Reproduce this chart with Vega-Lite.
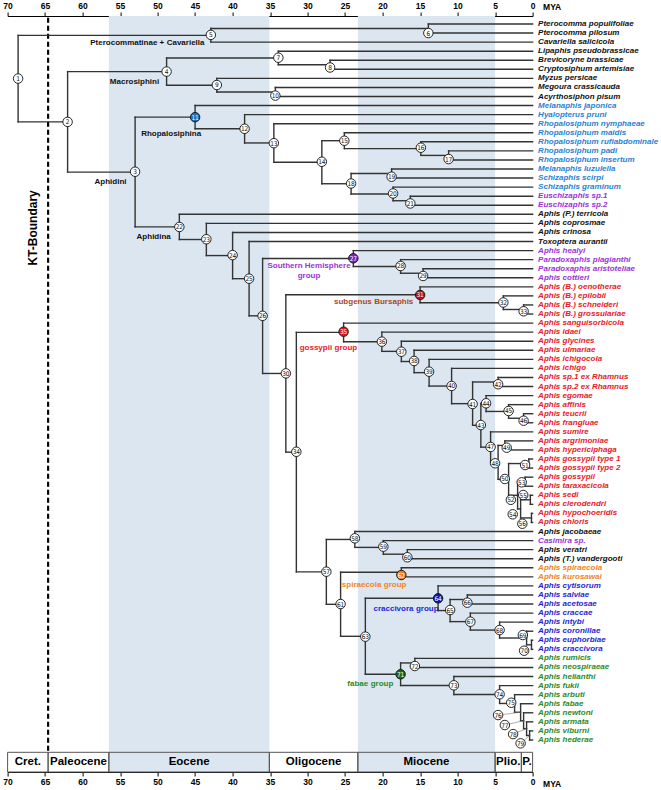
{
"$schema":"https://vega.github.io/schema/vega-lite/v6.json",
"width":525,"height":756,"autosize":"none",
"padding":{"left":7.6,"top":16,"right":128.4,"bottom":18},
"background":"white",
"config":{"view":{"stroke":null}},
"datasets":{
"bands":[{"s":56.5,"e":35.1},{"s":23.3,"e":5.0}],
"epochs":[{"n":"Cret.","s":70,"e":64.6,"m":67.3},{"n":"Paleocene","s":64.6,"e":56.5,"m":60.55},{"n":"Eocene","s":56.5,"e":35.1,"m":45.8},{"n":"Oligocene","s":35.1,"e":23.3,"m":29.2},{"n":"Miocene","s":23.3,"e":5.0,"m":14.15},{"n":"Plio.","s":5.0,"e":1.5,"m":3.25},{"n":"P.","s":1.5,"e":0,"m":0.75}],
"kt":[{"a":64.6}],
"ann":[
{"t":"Pterocommatinae +","a":48.95,"r":3.06,"p":"r","it":false,"g":"k"},
{"t":"Cavariella","a":48.95,"r":3.06,"p":"l","it":true,"g":"k"},
{"t":"Macrosiphini","a":53.08,"r":7.37,"p":"c","it":false,"g":"k"},
{"t":"Rhopalosiphina","a":48.19,"r":13.14,"p":"c","it":false,"g":"k"},
{"t":"Aphidini","a":56.28,"r":18.47,"p":"c","it":false,"g":"k"},
{"t":"Aphidina","a":50.52,"r":24.47,"p":"c","it":false,"g":"k"},
{"t":"Southern Hemisphere","a":29.81,"r":27.7,"p":"c","it":false,"g":"pu"},
{"t":"group","a":29.81,"r":28.8,"p":"c","it":false,"g":"pu"},
{"t":"subgenus","a":21.28,"r":31.71,"p":"r","it":false,"g":"bu"},
{"t":"Bursaphis","a":21.28,"r":31.71,"p":"l","it":true,"g":"bu"},
{"t":"gossypii","a":26.57,"r":36.78,"p":"r","it":true,"g":"rd"},
{"t":"group","a":26.57,"r":36.78,"p":"l","it":false,"g":"rd"},
{"t":"spiraecola","a":20.0,"r":62.93,"p":"r","it":true,"g":"or"},
{"t":"group","a":20.0,"r":62.93,"p":"l","it":false,"g":"or"},
{"t":"craccivora","a":15.72,"r":65.58,"p":"r","it":true,"g":"db"},
{"t":"group","a":15.72,"r":65.58,"p":"l","it":false,"g":"db"},
{"t":"fabae","a":21.75,"r":73.82,"p":"r","it":true,"g":"gr"},
{"t":"group","a":21.75,"r":73.82,"p":"l","it":false,"g":"gr"}
],
"tree":[
{"kind":"n","id":1,"parent":null,"age":68.6,"y":7.02,"ca":68.6,"cr":7.02,"cl":"none"},
{"kind":"n","id":2,"parent":1,"age":62.0,"y":11.8,"ca":62.0,"cr":11.8,"cl":"none"},
{"kind":"n","id":3,"parent":2,"age":53.0,"y":17.34,"ca":53.0,"cr":17.3,"cl":"none"},
{"kind":"n","id":4,"parent":2,"age":48.8,"y":6.25,"ca":48.8,"cr":6.25,"cl":"none"},
{"kind":"n","id":5,"parent":1,"age":42.9,"y":2.25,"ca":42.9,"cr":2.2,"cl":"none"},
{"kind":"n","id":6,"parent":5,"age":13.9,"y":1.5,"ca":13.9,"cr":2.0,"cl":"none"},
{"kind":"n","id":7,"parent":4,"age":33.9,"y":4.75,"ca":33.9,"cr":4.72,"cl":"none"},
{"kind":"n","id":8,"parent":7,"age":27.0,"y":5.5,"ca":27.0,"cr":5.8,"cl":"none"},
{"kind":"n","id":9,"parent":4,"age":42.1,"y":7.75,"ca":42.1,"cr":7.73,"cl":"none"},
{"kind":"n","id":10,"parent":9,"age":34.3,"y":8.5,"ca":34.3,"cr":8.9,"cl":"none"},
{"kind":"n","id":11,"parent":3,"age":45.0,"y":11.28,"ca":45.0,"cr":11.28,"cl":"rh"},
{"kind":"n","id":12,"parent":11,"age":38.4,"y":12.56,"ca":38.4,"cr":12.56,"cl":"none"},
{"kind":"n","id":13,"parent":12,"age":34.5,"y":14.125,"ca":34.5,"cr":14.15,"cl":"none"},
{"kind":"n","id":14,"parent":13,"age":28.1,"y":16.25,"ca":28.1,"cr":16.2,"cl":"none"},
{"kind":"n","id":15,"parent":14,"age":25.1,"y":13.875,"ca":25.1,"cr":13.88,"cl":"none"},
{"kind":"n","id":16,"parent":15,"age":14.9,"y":14.75,"ca":14.9,"cr":14.65,"cl":"none"},
{"kind":"n","id":17,"parent":16,"age":11.2,"y":15.5,"ca":11.2,"cr":15.9,"cl":"none"},
{"kind":"n","id":18,"parent":14,"age":24.2,"y":18.625,"ca":24.2,"cr":18.6,"cl":"none"},
{"kind":"n","id":19,"parent":18,"age":18.8,"y":17.5,"ca":18.8,"cr":17.85,"cl":"none"},
{"kind":"n","id":20,"parent":18,"age":18.6,"y":19.75,"ca":18.6,"cr":19.7,"cl":"none"},
{"kind":"n","id":21,"parent":20,"age":16.3,"y":20.5,"ca":16.3,"cr":20.8,"cl":"none"},
{"kind":"n","id":22,"parent":3,"age":47.1,"y":23.39,"ca":47.1,"cr":23.39,"cl":"none"},
{"kind":"n","id":23,"parent":22,"age":43.5,"y":24.78,"ca":43.5,"cr":24.75,"cl":"none"},
{"kind":"n","id":24,"parent":23,"age":40.0,"y":26.55,"ca":40.0,"cr":26.5,"cl":"none"},
{"kind":"n","id":25,"parent":24,"age":37.8,"y":29.1,"ca":37.8,"cr":29.1,"cl":"none"},
{"kind":"n","id":26,"parent":25,"age":36.0,"y":33.2,"ca":36.0,"cr":33.2,"cl":"none"},
{"kind":"n","id":27,"parent":26,"age":23.9,"y":26.875,"ca":23.9,"cr":26.85,"cl":"sh"},
{"kind":"n","id":28,"parent":27,"age":17.6,"y":27.75,"ca":17.6,"cr":27.7,"cl":"none"},
{"kind":"n","id":29,"parent":28,"age":14.6,"y":28.5,"ca":14.6,"cr":28.8,"cl":"none"},
{"kind":"n","id":30,"parent":26,"age":32.9,"y":39.56,"ca":32.9,"cr":39.55,"cl":"none"},
{"kind":"n","id":31,"parent":30,"age":15.0,"y":30.875,"ca":15.0,"cr":30.9,"cl":"bu"},
{"kind":"n","id":32,"parent":31,"age":3.9,"y":31.75,"ca":3.9,"cr":31.73,"cl":"none"},
{"kind":"n","id":33,"parent":32,"age":1.2,"y":32.5,"ca":1.2,"cr":32.7,"cl":"none"},
{"kind":"n","id":34,"parent":30,"age":31.5,"y":48.24,"ca":31.5,"cr":48.2,"cl":"none"},
{"kind":"n","id":35,"parent":34,"age":25.2,"y":35.03,"ca":25.2,"cr":34.95,"cl":"go"},
{"kind":"n","id":36,"parent":35,"age":20.1,"y":36.06,"ca":20.1,"cr":36.05,"cl":"none"},
{"kind":"n","id":37,"parent":36,"age":17.5,"y":37.12,"ca":17.5,"cr":37.16,"cl":"none"},
{"kind":"n","id":38,"parent":37,"age":15.8,"y":38.24,"ca":15.8,"cr":38.18,"cl":"none"},
{"kind":"n","id":39,"parent":38,"age":13.8,"y":39.47,"ca":13.8,"cr":39.36,"cl":"none"},
{"kind":"n","id":40,"parent":39,"age":10.8,"y":40.95,"ca":10.8,"cr":40.94,"cl":"none"},
{"kind":"n","id":41,"parent":40,"age":8.0,"y":42.89,"ca":8.0,"cr":42.93,"cl":"none"},
{"kind":"n","id":42,"parent":41,"age":4.6,"y":40.5,"ca":4.6,"cr":40.75,"cl":"none"},
{"kind":"n","id":43,"parent":41,"age":6.9,"y":45.28,"ca":6.9,"cr":45.25,"cl":"none"},
{"kind":"n","id":44,"parent":43,"age":6.2,"y":42.875,"ca":6.2,"cr":42.85,"cl":"none"},
{"kind":"n","id":45,"parent":44,"age":3.2,"y":43.75,"ca":3.2,"cr":43.7,"cl":"none"},
{"kind":"n","id":46,"parent":45,"age":1.2,"y":44.5,"ca":1.2,"cr":44.77,"cl":"none"},
{"kind":"n","id":47,"parent":43,"age":5.6,"y":47.69,"ca":5.6,"cr":47.67,"cl":"none"},
{"kind":"n","id":48,"parent":47,"age":4.6,"y":49.375,"ca":5.0,"cr":49.47,"cl":"none"},
{"kind":"n","id":49,"parent":48,"age":3.7,"y":47.5,"ca":3.45,"cr":47.75,"cl":"none"},
{"kind":"n","id":50,"parent":48,"age":3.2,"y":51.25,"ca":3.7,"cr":51.2,"cl":"none"},
{"kind":"n","id":51,"parent":50,"age":0.5,"y":49.5,"ca":1.0,"cr":49.66,"cl":"none"},
{"kind":"n","id":52,"parent":50,"age":2.0,"y":53.0,"ca":2.9,"cr":53.5,"cl":"none"},
{"kind":"n","id":53,"parent":52,"age":1.0,"y":51.5,"ca":1.45,"cr":51.57,"cl":"none"},
{"kind":"n","id":54,"parent":52,"age":1.6,"y":54.5,"ca":2.65,"cr":55.1,"cl":"none"},
{"kind":"n","id":55,"parent":54,"age":0.3,"y":53.5,"ca":1.25,"cr":52.97,"cl":"none"},
{"kind":"n","id":56,"parent":54,"age":0.15,"y":55.5,"ca":1.37,"cr":56.14,"cl":"none"},
{"kind":"n","id":57,"parent":34,"age":27.5,"y":61.45,"ca":27.5,"cr":61.43,"cl":"none"},
{"kind":"n","id":58,"parent":57,"age":23.7,"y":57.875,"ca":23.7,"cr":57.75,"cl":"none"},
{"kind":"n","id":59,"parent":58,"age":19.9,"y":58.75,"ca":19.9,"cr":58.67,"cl":"none"},
{"kind":"n","id":60,"parent":59,"age":16.7,"y":59.5,"ca":16.7,"cr":59.84,"cl":"none"},
{"kind":"n","id":61,"parent":57,"age":25.6,"y":65.03,"ca":25.6,"cr":65.0,"cl":"none"},
{"kind":"n","id":62,"parent":61,"age":17.5,"y":61.5,"ca":17.5,"cr":61.8,"cl":"sp"},
{"kind":"n","id":63,"parent":61,"age":22.3,"y":68.56,"ca":22.3,"cr":68.6,"cl":"none"},
{"kind":"n","id":64,"parent":63,"age":12.6,"y":64.36,"ca":12.6,"cr":64.37,"cl":"cr"},
{"kind":"n","id":65,"parent":64,"age":11.0,"y":65.72,"ca":11.0,"cr":65.66,"cl":"none"},
{"kind":"n","id":66,"parent":65,"age":8.7,"y":64.5,"ca":8.7,"cr":64.85,"cl":"none"},
{"kind":"n","id":67,"parent":65,"age":8.3,"y":66.94,"ca":8.3,"cr":66.95,"cl":"none"},
{"kind":"n","id":68,"parent":67,"age":4.4,"y":67.875,"ca":4.4,"cr":67.87,"cl":"none"},
{"kind":"n","id":69,"parent":68,"age":0.8,"y":68.75,"ca":1.3,"cr":68.42,"cl":"none"},
{"kind":"n","id":70,"parent":69,"age":0.15,"y":69.5,"ca":1.13,"cr":70.15,"cl":"none"},
{"kind":"n","id":71,"parent":63,"age":17.6,"y":72.75,"ca":17.6,"cr":72.75,"cl":"fa"},
{"kind":"n","id":72,"parent":71,"age":15.7,"y":71.5,"ca":15.7,"cr":71.84,"cl":"none"},
{"kind":"n","id":73,"parent":71,"age":10.5,"y":73.99,"ca":10.5,"cr":73.97,"cl":"none"},
{"kind":"n","id":74,"parent":73,"age":4.4,"y":74.98,"ca":4.4,"cr":74.96,"cl":"none"},
{"kind":"n","id":75,"parent":74,"age":2.4,"y":75.97,"ca":2.85,"cr":75.89,"cl":"none"},
{"kind":"n","id":76,"parent":75,"age":1.6,"y":76.94,"ca":4.6,"cr":77.25,"cl":"none"},
{"kind":"n","id":77,"parent":76,"age":1.2,"y":77.875,"ca":3.7,"cr":78.35,"cl":"none"},
{"kind":"n","id":78,"parent":77,"age":0.8,"y":78.75,"ca":2.6,"cr":79.35,"cl":"none"},
{"kind":"n","id":79,"parent":78,"age":0.4,"y":79.5,"ca":1.6,"cr":80.37,"cl":"none"},
{"kind":"t","id":"t1","parent":6,"age":0,"y":1,"name":"Pterocomma populifoliae","g":"k"},
{"kind":"t","id":"t2","parent":6,"age":0,"y":2,"name":"Pterocomma pilosum","g":"k"},
{"kind":"t","id":"t3","parent":5,"age":0,"y":3,"name":"Cavariella salicicola","g":"k"},
{"kind":"t","id":"t4","parent":7,"age":0,"y":4,"name":"Lipaphis pseudobrassicae","g":"k"},
{"kind":"t","id":"t5","parent":8,"age":0,"y":5,"name":"Brevicoryne brassicae","g":"k"},
{"kind":"t","id":"t6","parent":8,"age":0,"y":6,"name":"Cryptosiphum artemisiae","g":"k"},
{"kind":"t","id":"t7","parent":9,"age":0,"y":7,"name":"Myzus persicae","g":"k"},
{"kind":"t","id":"t8","parent":10,"age":0,"y":8,"name":"Megoura crassicauda","g":"k"},
{"kind":"t","id":"t9","parent":10,"age":0,"y":9,"name":"Acyrthosiphon pisum","g":"k"},
{"kind":"t","id":"t10","parent":11,"age":0,"y":10,"name":"Melanaphis japonica","g":"lb"},
{"kind":"t","id":"t11","parent":12,"age":0,"y":11,"name":"Hyalopterus pruni","g":"lb"},
{"kind":"t","id":"t12","parent":13,"age":0,"y":12,"name":"Rhopalosiphum nymphaeae","g":"lb"},
{"kind":"t","id":"t13","parent":15,"age":0,"y":13,"name":"Rhopalosiphum maidis","g":"lb"},
{"kind":"t","id":"t14","parent":16,"age":0,"y":14,"name":"Rhopalosiphum rufiabdominale","g":"lb"},
{"kind":"t","id":"t15","parent":17,"age":0,"y":15,"name":"Rhopalosiphum padi","g":"lb"},
{"kind":"t","id":"t16","parent":17,"age":0,"y":16,"name":"Rhopalosiphum insertum","g":"lb"},
{"kind":"t","id":"t17","parent":19,"age":0,"y":17,"name":"Melanaphis luzulella","g":"lb"},
{"kind":"t","id":"t18","parent":19,"age":0,"y":18,"name":"Schizaphis scirpi","g":"lb"},
{"kind":"t","id":"t19","parent":20,"age":0,"y":19,"name":"Schizaphis graminum","g":"lb"},
{"kind":"t","id":"t20","parent":21,"age":0,"y":20,"name":"Euschizaphis sp.1","g":"pu"},
{"kind":"t","id":"t21","parent":21,"age":0,"y":21,"name":"Euschizaphis sp.2","g":"pu"},
{"kind":"t","id":"t22","parent":22,"age":0,"y":22,"name":"Aphis (P.) terricola","g":"k"},
{"kind":"t","id":"t23","parent":23,"age":0,"y":23,"name":"Aphis coprosmae","g":"k"},
{"kind":"t","id":"t24","parent":24,"age":0,"y":24,"name":"Aphis crinosa","g":"k"},
{"kind":"t","id":"t25","parent":25,"age":0,"y":25,"name":"Toxoptera aurantii","g":"k"},
{"kind":"t","id":"t26","parent":27,"age":0,"y":26,"name":"Aphis healyi","g":"pu"},
{"kind":"t","id":"t27","parent":28,"age":0,"y":27,"name":"Paradoxaphis plagianthi","g":"pu"},
{"kind":"t","id":"t28","parent":29,"age":0,"y":28,"name":"Paradoxaphis aristoteliae","g":"pu"},
{"kind":"t","id":"t29","parent":29,"age":0,"y":29,"name":"Aphis cottieri","g":"pu"},
{"kind":"t","id":"t30","parent":31,"age":0,"y":30,"name":"Aphis (B.) oenotherae","g":"rd"},
{"kind":"t","id":"t31","parent":32,"age":0,"y":31,"name":"Aphis (B.) epilobii","g":"rd"},
{"kind":"t","id":"t32","parent":33,"age":0,"y":32,"name":"Aphis (B.) schneideri","g":"rd"},
{"kind":"t","id":"t33","parent":33,"age":0,"y":33,"name":"Aphis (B.) grossulariae","g":"rd"},
{"kind":"t","id":"t34","parent":35,"age":0,"y":34,"name":"Aphis sanguisorbicola","g":"rd"},
{"kind":"t","id":"t35","parent":36,"age":0,"y":35,"name":"Aphis idaei","g":"rd"},
{"kind":"t","id":"t36","parent":37,"age":0,"y":36,"name":"Aphis glycines","g":"rd"},
{"kind":"t","id":"t37","parent":38,"age":0,"y":37,"name":"Aphis ulmariae","g":"rd"},
{"kind":"t","id":"t38","parent":39,"age":0,"y":38,"name":"Aphis ichigocola","g":"rd"},
{"kind":"t","id":"t39","parent":40,"age":0,"y":39,"name":"Aphis ichigo","g":"rd"},
{"kind":"t","id":"t40","parent":42,"age":0,"y":40,"name":"Aphis sp.1 ex Rhamnus","g":"rd"},
{"kind":"t","id":"t41","parent":42,"age":0,"y":41,"name":"Aphis sp.2 ex Rhamnus","g":"rd"},
{"kind":"t","id":"t42","parent":44,"age":0,"y":42,"name":"Aphis egomae","g":"rd"},
{"kind":"t","id":"t43","parent":45,"age":0,"y":43,"name":"Aphis affinis","g":"rd"},
{"kind":"t","id":"t44","parent":46,"age":0,"y":44,"name":"Aphis teucrii","g":"rd"},
{"kind":"t","id":"t45","parent":46,"age":0,"y":45,"name":"Aphis frangluae","g":"rd"},
{"kind":"t","id":"t46","parent":47,"age":0,"y":46,"name":"Aphis sumire","g":"rd"},
{"kind":"t","id":"t47","parent":49,"age":0,"y":47,"name":"Aphis argrimoniae","g":"rd"},
{"kind":"t","id":"t48","parent":49,"age":0,"y":48,"name":"Aphis hypericiphaga","g":"rd"},
{"kind":"t","id":"t49","parent":51,"age":0,"y":49,"name":"Aphis gossypii type 1","g":"rd"},
{"kind":"t","id":"t50","parent":51,"age":0,"y":50,"name":"Aphis gossypii type 2","g":"rd"},
{"kind":"t","id":"t51","parent":53,"age":0,"y":51,"name":"Aphis gossypii","g":"rd"},
{"kind":"t","id":"t52","parent":53,"age":0,"y":52,"name":"Aphis taraxacicola","g":"rd"},
{"kind":"t","id":"t53","parent":55,"age":0,"y":53,"name":"Aphis sedi","g":"rd"},
{"kind":"t","id":"t54","parent":55,"age":0,"y":54,"name":"Aphis clerodendri","g":"rd"},
{"kind":"t","id":"t55","parent":56,"age":0,"y":55,"name":"Aphis hypochoeridis","g":"rd"},
{"kind":"t","id":"t56","parent":56,"age":0,"y":56,"name":"Aphis chloris","g":"rd"},
{"kind":"t","id":"t57","parent":58,"age":0,"y":57,"name":"Aphis jacobaeae","g":"k"},
{"kind":"t","id":"t58","parent":59,"age":0,"y":58,"name":"Casimira sp.","g":"pu"},
{"kind":"t","id":"t59","parent":60,"age":0,"y":59,"name":"Aphis veratri","g":"k"},
{"kind":"t","id":"t60","parent":60,"age":0,"y":60,"name":"Aphis (T.) vandergooti","g":"k"},
{"kind":"t","id":"t61","parent":62,"age":0,"y":61,"name":"Aphis spiraecola","g":"or"},
{"kind":"t","id":"t62","parent":62,"age":0,"y":62,"name":"Aphis kurosawai","g":"or"},
{"kind":"t","id":"t63","parent":64,"age":0,"y":63,"name":"Aphis cytisorum","g":"db"},
{"kind":"t","id":"t64","parent":66,"age":0,"y":64,"name":"Aphis salviae","g":"db"},
{"kind":"t","id":"t65","parent":66,"age":0,"y":65,"name":"Aphis acetosae","g":"db"},
{"kind":"t","id":"t66","parent":67,"age":0,"y":66,"name":"Aphis craccae","g":"db"},
{"kind":"t","id":"t67","parent":68,"age":0,"y":67,"name":"Aphis intybi","g":"db"},
{"kind":"t","id":"t68","parent":69,"age":0,"y":68,"name":"Aphis coronillae","g":"db"},
{"kind":"t","id":"t69","parent":70,"age":0,"y":69,"name":"Aphis euphorbiae","g":"db"},
{"kind":"t","id":"t70","parent":70,"age":0,"y":70,"name":"Aphis craccivora","g":"db"},
{"kind":"t","id":"t71","parent":72,"age":0,"y":71,"name":"Aphis rumicis","g":"gr"},
{"kind":"t","id":"t72","parent":72,"age":0,"y":72,"name":"Aphis neospiraeae","g":"gr"},
{"kind":"t","id":"t73","parent":73,"age":0,"y":73,"name":"Aphis helianthi","g":"gr"},
{"kind":"t","id":"t74","parent":74,"age":0,"y":74,"name":"Aphis fukii","g":"gr"},
{"kind":"t","id":"t75","parent":75,"age":0,"y":75,"name":"Aphis arbuti","g":"gr"},
{"kind":"t","id":"t76","parent":76,"age":0,"y":76,"name":"Aphis fabae","g":"gr"},
{"kind":"t","id":"t77","parent":77,"age":0,"y":77,"name":"Aphis newtoni","g":"gr"},
{"kind":"t","id":"t78","parent":78,"age":0,"y":78,"name":"Aphis armata","g":"gr"},
{"kind":"t","id":"t79","parent":79,"age":0,"y":79,"name":"Aphis viburni","g":"gr"},
{"kind":"t","id":"t80","parent":79,"age":0,"y":80,"name":"Aphis hederae","g":"gr"}
]},
"resolve":{"axis":{"x":"independent"}},
"layer":[
{"data":{"name":"bands"},"mark":{"type":"rect","color":"#dce6f1"},
 "encoding":{
  "x":{"field":"s","type":"quantitative","scale":{"domain":[70,0],"nice":false,"zero":false},
   "axis":{"orient":"top","values":[70,65,60,55,50,45,40,35,30,25,20,15,10,5,0],"tickSize":4,"tickColor":"black","domainColor":"black","labelColor":"black","labelFont":"Liberation Sans","labelFontSize":8.5,"labelFontWeight":"bold","labelPadding":1.5,"labelFlush":false,"labelOverlap":false,"grid":false,"title":"MYA","titleFont":"Liberation Sans","titleFontSize":8.5,"titleFontWeight":"bold","titleColor":"black","titleAngle":0,"titleAlign":"left","titleBaseline":"middle","titleX":535,"titleY":-10}},
  "x2":{"field":"e"},
  "y":{"datum":0.1173,"type":"quantitative","scale":{"domain":[0.1173,83.533],"reverse":true,"nice":false,"zero":false},"axis":null},
  "y2":{"datum":83.533}}},
{"data":{"name":"kt"},"mark":{"type":"rule","color":"black","strokeWidth":2.2,"strokeDash":[5,3]},
 "encoding":{"x":{"field":"a","type":"quantitative","axis":null},"y":{"datum":0.3,"type":"quantitative"},"y2":{"datum":81.36}}},
{"data":{"name":"epochs"},"mark":{"type":"rect","fillOpacity":0,"stroke":"#555555","strokeWidth":1},
 "encoding":{
  "x":{"field":"s","type":"quantitative",
   "axis":{"orient":"bottom","values":[70,65,60,55,50,45,40,35,30,25,20,15,10,5,0],"tickSize":4,"tickColor":"black","domainColor":"black","labelColor":"black","labelFont":"Liberation Sans","labelFontSize":8.5,"labelFontWeight":"bold","labelPadding":1.5,"labelFlush":false,"labelOverlap":false,"grid":false,"title":"MYA","titleFont":"Liberation Sans","titleFontSize":8.5,"titleFontWeight":"bold","titleColor":"black","titleAngle":0,"titleAlign":"left","titleBaseline":"middle","titleX":535,"titleY":11}},
  "x2":{"field":"e"},
  "y":{"datum":81.36,"type":"quantitative"},"y2":{"datum":83.533}}},
{"data":{"name":"epochs"},"mark":{"type":"text","font":"Liberation Sans","fontSize":11.5,"fontWeight":"bold","color":"black","baseline":"middle","align":"center"},
 "encoding":{"x":{"field":"m","type":"quantitative","axis":null},"y":{"datum":82.48,"type":"quantitative"},"text":{"field":"n"}}},
{"data":{"name":"tree"},
 "transform":[{"filter":"datum.parent != null"},{"aggregate":[{"op":"min","field":"y","as":"y0"},{"op":"max","field":"y","as":"y1"}],"groupby":["parent"]},{"lookup":"parent","from":{"data":{"name":"tree"},"key":"id","fields":["age"]},"as":["pAge"]}],
 "mark":{"type":"rule","color":"#333333","strokeWidth":1.4,"strokeCap":"square"},
 "encoding":{"x":{"field":"pAge","type":"quantitative","axis":null},"y":{"field":"y0","type":"quantitative"},"y2":{"field":"y1"}}},
{"data":{"name":"tree"},
 "transform":[{"filter":"datum.parent != null"},{"lookup":"parent","from":{"data":{"name":"tree"},"key":"id","fields":["age"]},"as":["pAge"]}],
 "mark":{"type":"rule","color":"#333333","strokeWidth":1.4,"strokeCap":"square"},
 "encoding":{"x":{"field":"pAge","type":"quantitative","axis":null},"x2":{"field":"age"},"y":{"field":"y","type":"quantitative"}}},
{"data":{"name":"tree"},"transform":[{"filter":"datum.kind == 'n' && datum.id >= 75"}],
 "mark":{"type":"rule","color":"#777777","strokeWidth":0.6},
 "encoding":{"x":{"field":"ca","type":"quantitative","axis":null},"x2":{"field":"age"},"y":{"field":"cr","type":"quantitative"},"y2":{"field":"y"}}},
{"data":{"name":"tree"},"transform":[{"filter":"datum.kind == 'n'"}],
 "mark":{"type":"point","shape":"circle","filled":true,"size":90,"stroke":"#111111","strokeWidth":0.9,"opacity":1},
 "encoding":{"x":{"field":"ca","type":"quantitative","axis":null},"y":{"field":"cr","type":"quantitative"},
  "fill":{"field":"cl","type":"nominal","scale":{"domain":["none","rh","sh","bu","go","sp","cr","fa"],"range":["#ffffff","#1f6fb6","#7d22c4","#b5121b","#e8161e","#ef7f27","#1212b4","#1a6b1a"]},"legend":null}}},
{"data":{"name":"tree"},"transform":[{"filter":"datum.kind == 'n'"}],
 "mark":{"type":"text","font":"Liberation Sans Narrow, DejaVu Sans Condensed, sans-serif","fontSize":6.5,"align":"center","baseline":"middle","dy":0.5},
 "encoding":{"x":{"field":"ca","type":"quantitative","axis":null},"y":{"field":"cr","type":"quantitative"},"text":{"field":"id"},
  "color":{"condition":{"test":"datum.cl == 'none'","value":"#111111"},"value":"white"}}},
{"data":{"name":"tree"},"transform":[{"filter":"datum.kind == 't'"}],
 "mark":{"type":"text","font":"Liberation Sans","fontSize":8.0,"fontWeight":"bold","fontStyle":"italic","align":"left","baseline":"middle","dx":5.5},
 "encoding":{"x":{"field":"age","type":"quantitative","axis":null},"y":{"field":"y","type":"quantitative"},"text":{"field":"name"},
  "color":{"field":"g","type":"nominal","scale":{"domain":["k","lb","pu","rd","or","db","gr","bu"],"range":["#111111","#2b7fd3","#9b33d6","#e8202a","#f08424","#1f1fd6","#2a8a2a","#ad4622"]},"legend":null}}},
{"data":{"name":"ann"},"transform":[{"filter":"datum.p == 'c'"}],
 "mark":{"type":"text","font":"Liberation Sans","fontSize":8,"fontWeight":"bold","align":"center","baseline":"middle"},
 "encoding":{"x":{"field":"a","type":"quantitative","axis":null},"y":{"field":"r","type":"quantitative"},"text":{"field":"t"},
  "color":{"field":"g","type":"nominal","legend":null},
  "fontStyle":{"condition":{"test":"datum.it","value":"italic"},"value":"normal"}}},
{"data":{"name":"ann"},"transform":[{"filter":"datum.p == 'r'"}],
 "mark":{"type":"text","font":"Liberation Sans","fontSize":8,"fontWeight":"bold","align":"right","baseline":"middle","dx":-1.2},
 "encoding":{"x":{"field":"a","type":"quantitative","axis":null},"y":{"field":"r","type":"quantitative"},"text":{"field":"t"},
  "color":{"field":"g","type":"nominal","legend":null},
  "fontStyle":{"condition":{"test":"datum.it","value":"italic"},"value":"normal"}}},
{"data":{"name":"ann"},"transform":[{"filter":"datum.p == 'l'"}],
 "mark":{"type":"text","font":"Liberation Sans","fontSize":8,"fontWeight":"bold","align":"left","baseline":"middle","dx":1.2},
 "encoding":{"x":{"field":"a","type":"quantitative","axis":null},"y":{"field":"r","type":"quantitative"},"text":{"field":"t"},
  "color":{"field":"g","type":"nominal","legend":null},
  "fontStyle":{"condition":{"test":"datum.it","value":"italic"},"value":"normal"}}},
{"data":{"values":[{"t":"KT-Boundary"}]},
 "mark":{"type":"text","font":"Liberation Sans","fontSize":12,"fontWeight":"bold","angle":270,"align":"center","baseline":"middle","color":"black"},
 "encoding":{"x":{"datum":66.6,"type":"quantitative","axis":null},"y":{"datum":23.5,"type":"quantitative"},"text":{"field":"t"}}}
]
}
